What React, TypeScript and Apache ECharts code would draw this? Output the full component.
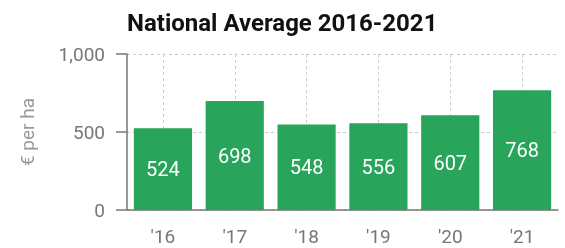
import React, { useEffect, useRef } from "react";
import * as echarts from "echarts";

const title = "National Average 2016-2021";
const yAxisName = "€ per ha";
const categories = ["'16", "'17", "'18", "'19", "'20", "'21"];
const values = [524, 698, 548, 556, 607, 768];

export default function App() {
  const ref = useRef<HTMLDivElement>(null);
  useEffect(() => {
    if (!ref.current) return;
    const chart = echarts.init(ref.current, undefined, { renderer: "svg" });
    const grey = "#777777";
    const gridLine = { color: "#cccccc", type: [3, 3] as number[], width: 1 };
    chart.setOption({
      animation: false,
      textStyle: { fontFamily: "Roboto" },
      title: {
        text: title,
        left: 122,
        top: 6,
        textStyle: { fontFamily: "Roboto", fontWeight: "bold", fontSize: 24, color: "#111111" },
      },
      graphic: [
        {
          type: "text",
          x: 27,
          y: 132,
          rotation: Math.PI / 2,
          style: {
            text: yAxisName,
            fill: "#999999",
            fontSize: 19,
            fontFamily: "Roboto",
            align: "center",
            verticalAlign: "middle",
          },
        },
      ],
      grid: { left: 127, right: 7, top: 54, bottom: 38 },
      xAxis: {
        type: "category",
        data: categories,
        axisLine: { lineStyle: { color: grey, width: 1.5 } },
        axisTick: { alignWithLabel: true, length: 9, lineStyle: { color: grey, width: 1.5 } },
        axisLabel: { color: grey, fontSize: 19, margin: 17, fontFamily: "Roboto" },
        splitLine: { show: true, alignWithLabel: true, lineStyle: gridLine },
      },
      yAxis: {
        type: "value",
        min: 0,
        max: 1000,
        interval: 500,
        axisLine: { show: true, lineStyle: { color: grey, width: 1.5 } },
        axisTick: { show: true, length: 11, lineStyle: { color: grey, width: 1.5 } },
        axisLabel: {
          color: grey,
          fontSize: 19,
          margin: 22,
          fontFamily: "Roboto",
          formatter: (v: number) => v.toLocaleString("en-US"),
        },
        splitLine: { show: true, lineStyle: gridLine },
      },
      series: [
        {
          type: "bar",
          data: values,
          barCategoryGap: "19%",
          itemStyle: { color: "#28a55b" },
          label: {
            show: true,
            position: "inside",
            color: "#ffffff",
            fontSize: 20,
            fontFamily: "Roboto",
          },
        },
      ],
    });
    return () => chart.dispose();
  }, []);
  return (
    <div
      ref={ref}
      style={{ position: "fixed", left: 0, top: 0, width: 565, height: 248 }}
    />
  );
}
